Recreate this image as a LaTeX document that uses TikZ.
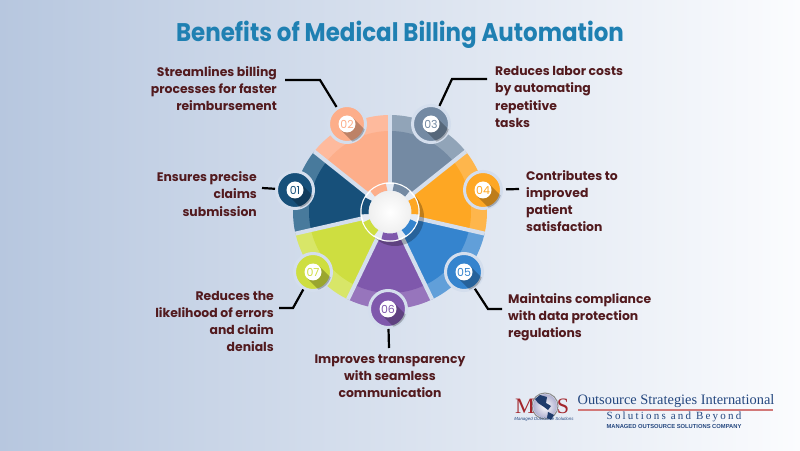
\documentclass[tikz,border=0pt]{standalone}
\usepackage{fontspec}
\setmainfont{Poppins}
\newfontfamily\logoserif{Liberation Serif}
\newfontfamily\logosans{Liberation Sans}
\usepackage{tikz}

\definecolor{bgleft}{HTML}{B7C7DF}
\definecolor{bgmid}{HTML}{D8E0EE}
\definecolor{bgright}{HTML}{FBFCFE}
\definecolor{gapcol}{HTML}{D4DEED}
\definecolor{titlecol}{HTML}{1F80B2}
\definecolor{labelcol}{HTML}{521A1E}
\definecolor{d1}{HTML}{17507A}
\definecolor{l1}{HTML}{487A9C}
\definecolor{d2}{HTML}{FDAE8A}
\definecolor{l2}{HTML}{FEBA9D}
\definecolor{d3}{HTML}{748AA3}
\definecolor{l3}{HTML}{91A4B8}
\definecolor{d4}{HTML}{FEA723}
\definecolor{l4}{HTML}{FEB64C}
\definecolor{d5}{HTML}{3584CE}
\definecolor{l5}{HTML}{619FD9}
\definecolor{d6}{HTML}{7F58AC}
\definecolor{l6}{HTML}{9775BC}
\definecolor{d7}{HTML}{CEDE40}
\definecolor{l7}{HTML}{D8E668}
\definecolor{logoblue}{HTML}{24477F}
\definecolor{logored}{HTML}{A3262C}

\tikzset{
  badge/.style={circle, draw=gapcol, line width=3pt, minimum size=37pt, inner sep=0pt},
  numdisc/.style={circle, fill=white, minimum size=17pt, inner sep=0pt, font=\fontsize{11}{11}\selectfont},
  leader/.style={draw=black, line width=2.2pt},
  labeltext/.style={font=\fontsize{12.4}{17.2}\selectfont\bfseries, text=labelcol, inner sep=0pt}
}

\begin{document}
\begin{tikzpicture}[x=1pt,y=1pt]
  \shade[use as bounding box, left color=bgleft, middle color=bgmid, right color=bgright] (0,0) rectangle (800,450);
  \coordinate (hub) at (390,238);

  \foreach \i/\ang in {1/167.14,2/115.71,3/64.29,4/12.86,5/-38.57,6/-90,7/-141.43} {
    \fill[l\i] (hub) -- ++(\ang-25.71:97) arc[start angle=\ang-25.71, end angle=\ang+25.71, radius=97] -- cycle;
    \fill[d\i] (hub) -- ++(\ang-25.71:81) arc[start angle=\ang-25.71, end angle=\ang+25.71, radius=81] -- cycle;
  }
  \foreach \ang in {90,38.57,-12.86,-64.29,-115.71,-167.14,141.43} {
    \draw[gapcol, line width=4pt] (hub) -- ++(\ang:97);
  }

  \fill[black, opacity=.25] (hub) ++(5,-5) circle (29);
  \draw[white, line width=1.5pt, fill=gapcol!60!white] (hub) circle (29);
  \foreach \i/\ang in {1/167.14,2/115.71,3/64.29,4/12.86,5/-38.57,6/-90,7/-141.43} {
    \draw[d\i, line width=7pt] (hub) ++(\ang-18:25) arc[start angle=\ang-18, end angle=\ang+18, radius=25];
  }
  \shade[inner color=white, outer color=black!6] (hub) circle (21);

  \foreach \i/\px/\py/\num in {1/295/260/01,2/347/326/02,3/431/326/03,4/483/260/04,5/464/178/05,6/388/141/06,7/313/178/07} {
    \node[badge, fill=d\i] (b\i) at (\px,\py) {};
    \begin{scope}
      \clip (b\i) circle (18.5);
      \draw[black, opacity=.25, line width=17pt] (b\i.center) -- ++(-45:20);
    \end{scope}
    \node[numdisc, text=d\i] (n\i) at (b\i) {\num};
  }

  \node[font=\fontsize{25.5}{30}\selectfont\bfseries, text=titlecol, inner sep=0pt, xscale=.9] (title) at (400,415) {Benefits of Medical Billing Automation};

  \node[labeltext, align=right, anchor=east] (t1) at (257,256) {Ensures precise\\claims\\submission};
  \node[labeltext, align=right, anchor=east] (t2) at (277,361.5) {Streamlines billing\\processes for faster\\reimbursement};
  \node[labeltext, align=left, anchor=west] (t3) at (495,353) {Reduces labor costs\\by automating\\repetitive\\tasks};
  \node[labeltext, align=left, anchor=west] (t4) at (526,249) {Contributes to\\improved\\patient\\satisfaction};
  \node[labeltext, align=left, anchor=west] (t5) at (508,133) {Maintains compliance\\with data protection\\regulations};
  \node[labeltext, align=center] (t6) at (390,74) {Improves transparency\\with seamless\\communication};
  \node[labeltext, align=right, anchor=east] (t7) at (274,128.5) {Reduces the\\likelihood of errors\\and claim\\denials};

  \coordinate (e1) at (262,262);
  \coordinate (e2) at (285,370);
  \coordinate (k2) at (320,370);
  \coordinate (e3) at (487,371);
  \coordinate (k3) at (452,371);
  \coordinate (e4) at (519,261);
  \coordinate (e5) at (502,141);
  \coordinate (k5) at (488,141);
  \coordinate (e6) at (389,102);
  \coordinate (e7) at (279,142);
  \coordinate (k7) at (293,142);
  \draw[leader] (b1) -- (e1);
  \draw[leader] (b2) -- (k2) -- (e2);
  \draw[leader] (b3) -- (k3) -- (e3);
  \draw[leader, shorten <=3pt] (b4) -- (e4);
  \draw[leader] (b5) -- (k5) -- (e5);
  \draw[leader] (b6) -- (e6);
  \draw[leader] (b7) -- (k7) -- (e7);

  \draw[black!45, line width=1pt] (545,44) circle (13);
  \shade[inner color=white, outer color=blue!25!gray!50] (545,44) circle (12);
  \fill[logoblue!85!black] (540,55) -- (547,53) -- (546,47) -- (551,44) -- (548,40) -- (544,43) -- (538,47) -- (535,51) -- cycle;
  \fill[logoblue!85!black] (548,38) -- (554,35) -- (551,30) -- (547,32) -- cycle;
  \node[font=\logoserif\fontsize{22}{22}\selectfont, text=logored, inner sep=0pt] (logom) at (525,44) {M};
  \node[font=\logoserif\fontsize{22}{22}\selectfont, text=logored, inner sep=0pt] (logos) at (563,44) {S};
  \node[font=\logosans\itshape\fontsize{4.4}{5}\selectfont, text=logoblue, inner sep=0pt] (logosub) at (544,31) {Managed Outsource Solutions};
  \node[font=\logoserif\fontsize{14.4}{15}\selectfont, text=logoblue, inner sep=0pt] (logoname) at (676,49) {Outsource Strategies International};
  \draw[red!50!gray!70, line width=1.2pt] (578,40) -- (773,40);
  \node[font=\logoserif\addfontfeature{LetterSpace=20}\fontsize{11}{11}\selectfont, text=logoblue, inner sep=0pt] (logotag) at (674,33) {Solutions and Beyond};
  \node[font=\logosans\bfseries\fontsize{5.8}{6}\selectfont, text=logoblue, inner sep=0pt] (logoco) at (674,23) {MANAGED OUTSOURCE SOLUTIONS COMPANY};
\end{tikzpicture}
\end{document}
